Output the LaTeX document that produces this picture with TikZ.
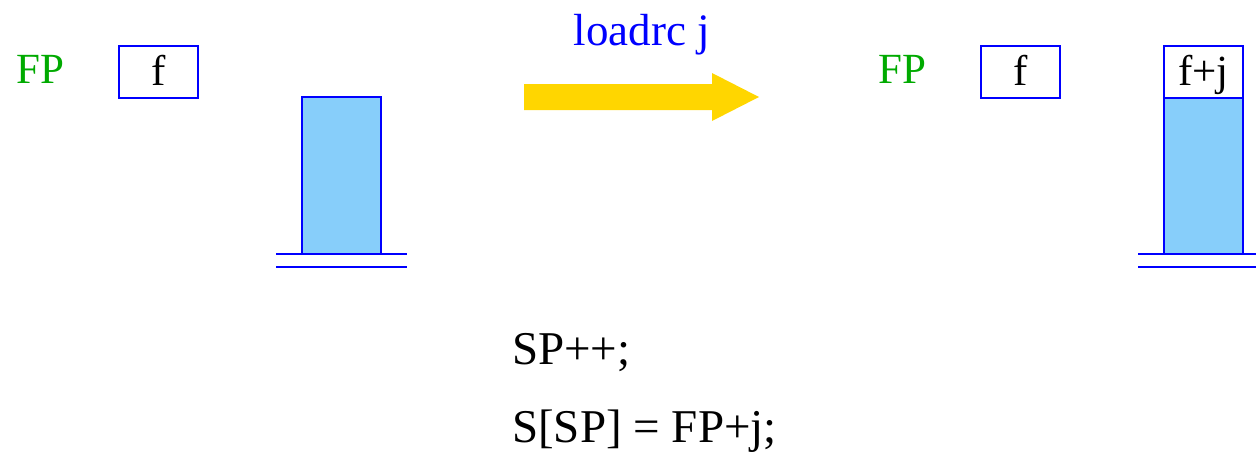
\documentclass[tikz,border=0pt]{standalone}
\usepackage{fontspec}
\setmainfont{Liberation Serif}
\definecolor{regblue}{RGB}{0,0,255}
\definecolor{stackfill}{RGB}{135,206,250}
\definecolor{regname}{RGB}{0,170,0}
\definecolor{arrowgold}{RGB}{255,214,0}
\tikzset{
  txt/.style={font=\fontsize{43}{50}\selectfont, inner sep=0pt},
  code/.style={font=\fontsize{47}{56}\selectfont, inner sep=0pt},
  cell/.style={draw=regblue, line width=2pt, fill=white, minimum width=79pt,
    minimum height=52pt, inner sep=0pt, text height=30pt, text depth=3pt,
    font=\fontsize{43}{50}\selectfont},
  stackbody/.style={draw=regblue, line width=2pt, fill=stackfill},
  baseline rule/.style={draw=regblue, line width=2pt},
}
\begin{document}
\begin{tikzpicture}[x=1pt,y=-1pt]
  \useasboundingbox (0,0) rectangle (1256,455);

  % state before the instruction
  \node[txt, text=regname, anchor=base west] (fpA) at (16,83) {FP};
  \node[cell] (fA) at (158.5,71.5) {f};
  \filldraw[stackbody] (302,97) rectangle (381,254);
  \coordinate (baseAl) at (276,254);
  \coordinate (baseAr) at (407,254);
  \coordinate (baseBl) at (276,267);
  \coordinate (baseBr) at (407,267);
  \draw[baseline rule] (baseAl) -- (baseAr);
  \draw[baseline rule] (baseBl) -- (baseBr);

  % transition arrow with the instruction
  \fill[arrowgold] (524,84) -- (712,84) -- (712,73) -- (759,97) -- (712,121)
    -- (712,110) -- (524,110) -- cycle;
  \node[txt, font=\fontsize{45}{52}\selectfont, text=regblue, anchor=base]
    (instr) at (642,45) {loadrc j};

  % state after the instruction
  \node[txt, text=regname, anchor=base west] (fpB) at (878,83) {FP};
  \node[cell] (fB) at (1020.5,71.5) {f};
  \filldraw[stackbody] (1164,97) rectangle (1243,254);
  \node[cell] (top) at (1203.5,71.5) {f+j};
  \coordinate (baseCl) at (1138,254);
  \coordinate (baseCr) at (1257,254);
  \coordinate (baseDl) at (1138,267);
  \coordinate (baseDr) at (1257,267);
  \draw[baseline rule] (baseCl) -- (baseCr);
  \draw[baseline rule] (baseDl) -- (baseDr);

  % semantics of the instruction
  \node[code, anchor=base west] (semA) at (512,364) {SP++;};
  \node[code, anchor=base west] (semB) at (512,442) {S[SP] = FP+j;};
\end{tikzpicture}
\end{document}
